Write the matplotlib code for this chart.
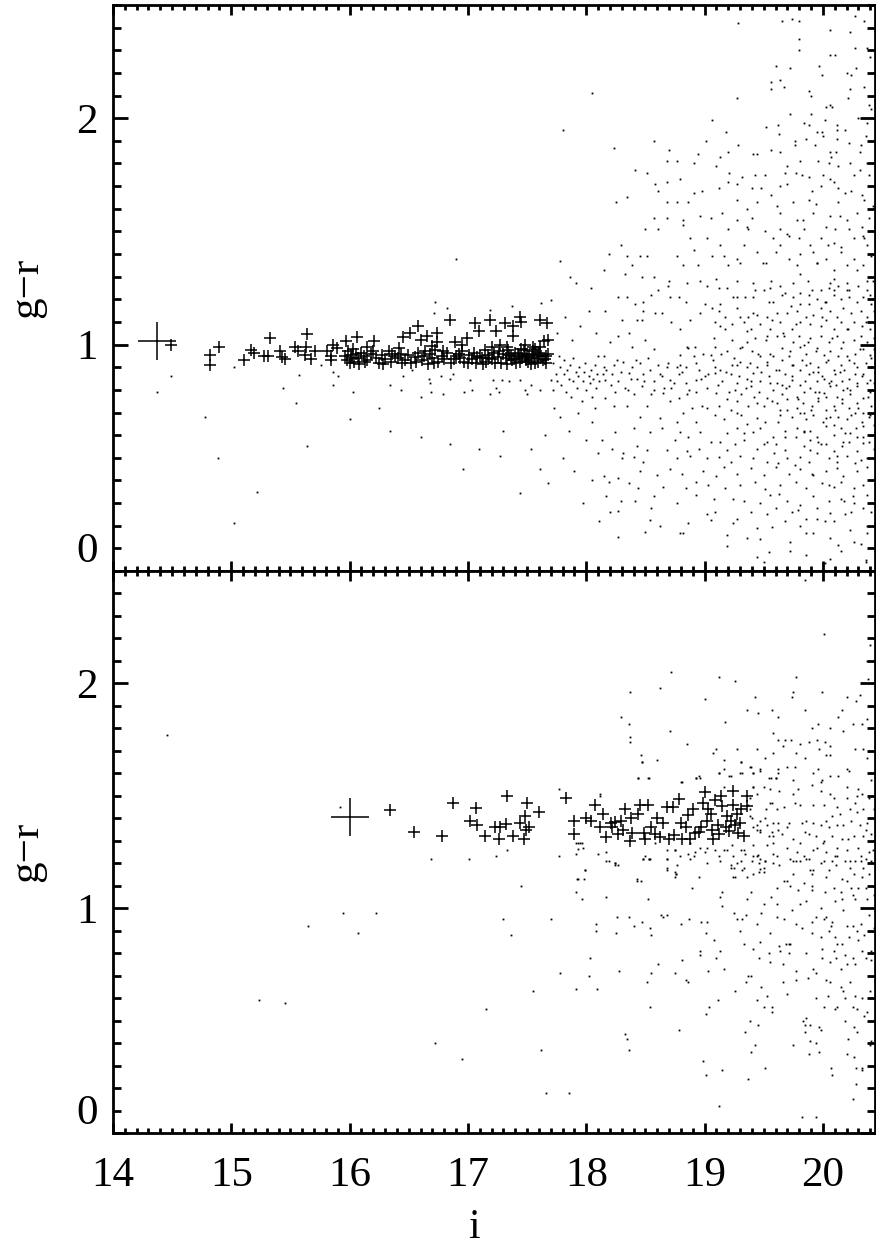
import matplotlib
matplotlib.use('Agg')
import matplotlib.pyplot as plt

plt.rcParams['font.family'] = ['Liberation Serif', 'DejaVu Serif']

# ---- upper panel ----
top_bcg_i = [14.37]
top_bcg_gr = [1.015]

# red sequence members (crosses)
top_rs = [
    (14.49, 1.00), (14.82, 0.955), (14.82, 0.91), (14.90, 0.99), (15.11, 0.93), (15.17, 0.975),
    (15.19, 0.965), (15.33, 1.03), (15.28, 0.95), (15.31, 0.95), (15.41, 0.97), (15.43, 0.945),
    (15.45, 0.935), (15.54, 0.99), (15.56, 0.97), (15.62, 0.955), (15.64, 1.045), (15.63, 0.99),
    (15.67, 0.935), (15.71, 0.97), (15.81, 0.97), (15.84, 0.95), (15.86, 1.0), (15.89, 0.985),
    (15.84, 0.93), (15.97, 1.015), (16.06, 1.035),
    (15.96, 0.95), (15.98, 0.93), (15.99, 0.97), (16.00, 0.92), (16.01, 0.955), (16.02, 0.94),
    (16.03, 0.98), (16.04, 0.925), (16.05, 0.96), (16.07, 0.94), (16.08, 0.915), (16.10, 0.965),
    (16.12, 0.95), (16.15, 0.93), (16.18, 0.96), (16.21, 1.015), (16.22, 0.94), (16.25, 0.92),
    (16.27, 0.955), (16.30, 0.935), (16.33, 0.97), (16.35, 0.925), (16.38, 0.95), (16.41, 0.94),
    (16.43, 0.96), (16.45, 1.035), (16.47, 0.93), (16.49, 0.955), (16.51, 1.05),
    (16.52, 0.92), (16.55, 0.945), (16.58, 1.08), (16.58, 0.965), (16.60, 1.02), (16.61, 0.93),
    (16.63, 0.95), (16.65, 1.04), (16.66, 0.915), (16.68, 0.96), (16.70, 0.94), (16.72, 0.975),
    (16.74, 1.05), (16.74, 1.01), (16.75, 0.925), (16.78, 0.95), (16.80, 0.935), (16.82, 0.965),
    (16.85, 1.11), (16.86, 0.92), (16.89, 1.01), (16.90, 0.95), (16.93, 0.94), (16.95, 0.97),
    (16.97, 0.925), (16.99, 1.03),
    (17.01, 0.955), (17.03, 0.935), (17.05, 0.965), (17.06, 1.095), (17.07, 0.92), (17.09, 1.06),
    (17.10, 0.95), (17.12, 0.94), (17.14, 0.975), (17.15, 0.925), (17.17, 0.955), (17.19, 1.11),
    (17.20, 0.935), (17.22, 0.965), (17.24, 1.06), (17.25, 0.945), (17.27, 1.0), (17.28, 0.92),
    (17.30, 0.96), (17.31, 1.095), (17.32, 0.94), (17.34, 0.975), (17.35, 0.955), (17.37, 0.93),
    (17.38, 1.08), (17.38, 1.04), (17.40, 0.965), (17.41, 0.92), (17.43, 0.95), (17.44, 1.12),
    (17.45, 1.10), (17.46, 0.94), (17.47, 0.975), (17.49, 0.93), (17.50, 0.96), (17.52, 0.945),
    (17.53, 0.915), (17.55, 0.97), (17.56, 0.94), (17.58, 0.955), (17.59, 0.925), (17.61, 1.11),
    (17.61, 0.99), (17.62, 0.95), (17.64, 1.015), (17.65, 0.935), (17.67, 1.095), (17.68, 1.02),
    (17.68, 0.96), (17.66, 0.92), (17.55, 0.99), (17.48, 1.0), (17.20, 0.99), (16.95, 1.0),
    (16.70, 0.995), (16.42, 0.985), (16.15, 0.99),
    (16.13, 0.925), (16.20, 0.97), (16.28, 0.915), (16.36, 0.96), (16.44, 0.92), (16.56, 0.925),
    (16.64, 0.97), (16.71, 0.92), (16.79, 0.97), (16.88, 0.935), (16.92, 0.96), (17.00, 0.92),
    (17.08, 0.945), (17.13, 0.915), (17.18, 0.94), (17.23, 0.92), (17.26, 0.97), (17.33, 0.915),
    (17.36, 0.95), (17.39, 0.935), (17.42, 0.96), (17.44, 0.925), (17.48, 0.95), (17.51, 0.925),
    (17.54, 0.955), (17.57, 0.92), (17.60, 0.965), (17.63, 0.93), (17.66, 0.95), (17.57, 0.98),
    (17.45, 0.98), (17.33, 0.99),
]

# field galaxies (dots)
top_field = [
    # bright, sparse part
    (14.37, 0.79), (14.49, 0.86), (14.78, 0.68), (14.89, 0.50), (15.02, 0.21), (15.22, 0.35),
    (15.02, 0.90), (15.44, 0.81), (15.57, 0.865), (15.64, 0.55), (15.76, 0.91), (15.86, 0.88),
    (15.86, 0.82), (15.90, 0.86), (16.03, 0.79), (16.00, 0.67), (16.34, 0.62), (16.60, 0.59),
    (16.85, 0.56), (17.09, 0.54), (17.30, 0.62), (17.53, 0.54), (17.65, 0.60), (16.96, 0.45),
    (17.27, 0.51), (17.61, 0.45), (17.68, 0.39), (17.44, 0.345),
    (16.72, 1.19), (16.82, 1.16), (16.71, 1.14), (17.19, 1.155), (17.37, 1.17), (17.62, 1.185),
    (17.70, 1.195), (17.91, 1.27),
    (16.45, 0.86), (16.53, 0.89), (16.67, 0.85), (16.77, 0.86), (16.85, 0.85), (16.68, 0.83),
    (16.34, 0.82), (16.43, 0.80), (16.60, 0.77), (16.69, 0.79), (17.02, 0.845), (17.03, 0.80),
    (16.97, 0.79), (17.21, 0.845), (17.29, 0.845), (17.24, 0.81), (17.26, 0.79), (17.44, 0.845),
    (17.48, 0.80), (17.53, 0.82), (17.61, 0.80), (17.70, 0.845), (17.72, 0.80), (17.50, 0.78),
    (17.35, 0.84), (17.19, 0.78), (16.79, 0.78), (16.87, 0.87),
    (16.90, 1.38), (17.78, 1.37), (17.80, 1.95), (18.05, 2.11), (16.25, 0.72), (15.55, 0.74),
    # 17.7 - 18.1
    (17.72, 0.92), (17.74, 0.87), (17.75, 0.84), (17.77, 0.95), (17.78, 0.90), (17.79, 0.82),
    (17.81, 0.87), (17.81, 0.93), (17.83, 0.79), (17.84, 0.89), (17.85, 0.85), (17.86, 0.91),
    (17.87, 0.77), (17.89, 0.84), (17.89, 0.94), (17.91, 0.88), (17.92, 0.81), (17.93, 0.86),
    (17.94, 0.90), (17.96, 0.75), (17.97, 0.84), (17.98, 0.88), (17.99, 0.92), (18.00, 0.80),
    (18.02, 0.86), (18.03, 0.83), (18.04, 0.89), (18.05, 0.77), (18.06, 0.85), (18.07, 0.91),
    (18.08, 0.81), (18.09, 0.87), (18.10, 0.95), (18.11, 0.84),
    (17.75, 1.05), (17.82, 1.12), (17.88, 1.02), (17.95, 1.08), (18.02, 1.15), (18.08, 1.05),
    (17.78, 0.68), (17.85, 0.62), (17.93, 0.70), (18.00, 0.58), (18.05, 0.66), (17.80, 0.50),
    (17.90, 0.44), (18.05, 0.40), (17.97, 0.30), (18.10, 0.52), (17.73, 0.72), (18.07, 0.72),
    (17.86, 1.30), (18.04, 1.25), (18.11, 0.22),
    # faint part, g-r > 1.25
    (19.28, 2.42), (19.65, 2.43), (19.74, 2.44), (19.80, 2.43), (20.06, 2.39), (20.23, 2.38),
    (20.35, 2.43), (19.80, 2.35), (19.80, 2.30), (20.06, 2.28), (20.27, 2.31), (20.37, 2.31),
    (20.40, 2.27), (19.60, 2.23), (19.72, 2.22), (19.97, 2.23), (19.99, 2.19), (20.20, 2.20),
    (20.24, 2.19), (20.28, 2.22), (19.56, 2.16), (19.64, 2.17), (19.56, 2.13), (19.67, 2.14),
    (19.27, 2.09), (19.88, 2.12), (19.90, 2.10), (20.23, 2.13), (20.35, 2.14), (20.21, 2.09),
    (20.03, 2.05), (20.08, 2.05), (20.06, 2.06), (20.39, 2.06), (19.06, 1.99), (19.72, 2.02),
    (19.90, 2.02), (20.02, 1.99), (19.84, 1.98), (19.88, 1.97), (20.12, 1.97), (20.30, 2.00),
    (20.37, 1.98), (19.18, 1.94), (19.52, 1.96), (19.62, 1.97), (19.95, 1.94), (19.99, 1.94),
    (20.12, 1.95), (18.23, 1.87), (18.57, 1.90), (18.70, 1.86), (19.01, 1.90), (19.28, 1.88),
    (19.63, 1.93), (19.76, 1.90), (19.76, 1.88), (19.86, 1.91), (19.93, 1.88), (20.00, 1.92),
    (20.12, 1.91), (20.22, 1.89), (20.36, 1.92), (20.32, 1.88), (18.94, 1.84), (19.13, 1.83),
    (19.20, 1.85), (19.41, 1.84), (19.44, 1.84), (19.56, 1.86), (19.64, 1.85), (20.06, 1.85),
    (20.11, 1.85), (20.31, 1.85), (18.68, 1.81), (18.77, 1.81), (18.91, 1.80), (19.10, 1.79),
    (19.70, 1.79), (19.81, 1.81), (19.96, 1.81), (20.05, 1.80), (20.13, 1.79), (20.23, 1.80),
    (20.37, 1.80), (18.41, 1.77), (18.51, 1.76), (18.79, 1.73), (19.21, 1.76), (19.32, 1.74),
    (19.43, 1.75), (19.51, 1.75), (19.68, 1.76), (19.77, 1.76), (19.82, 1.75), (20.00, 1.75),
    (20.06, 1.73), (20.26, 1.75), (20.39, 1.75), (18.58, 1.71), (18.68, 1.72), (18.91, 1.67),
    (18.98, 1.68), (19.12, 1.69), (19.20, 1.72), (19.27, 1.71), (19.40, 1.69), (19.48, 1.69),
    (19.56, 1.66), (19.64, 1.70), (19.70, 1.71), (19.91, 1.68), (19.98, 1.70), (20.09, 1.72),
    (20.13, 1.69), (20.19, 1.67), (20.33, 1.66), (18.25, 1.63), (18.34, 1.65), (18.61, 1.68),
    (18.68, 1.63), (18.77, 1.63), (18.86, 1.63), (19.27, 1.64), (19.36, 1.60), (19.44, 1.63),
    (19.75, 1.63), (19.88, 1.64), (20.13, 1.63), (20.35, 1.64), (18.57, 1.56), (18.68, 1.56),
    (18.82, 1.55), (18.96, 1.57), (19.05, 1.56), (19.15, 1.58), (19.27, 1.55), (19.40, 1.56),
    (19.64, 1.58), (19.78, 1.55), (19.92, 1.58), (20.06, 1.57), (20.20, 1.55), (20.29, 1.58),
    (20.39, 1.56), (18.50, 1.51), (18.61, 1.51), (18.82, 1.53), (19.20, 1.51), (19.37, 1.51),
    (19.51, 1.50), (19.64, 1.51), (19.70, 1.49), (19.84, 1.51), (20.03, 1.52), (20.10, 1.51),
    (20.22, 1.51), (20.34, 1.48), (18.29, 1.44), (18.88, 1.47), (19.02, 1.47), (19.13, 1.44),
    (19.33, 1.44), (19.58, 1.47), (19.64, 1.44), (19.80, 1.47), (19.89, 1.44), (19.98, 1.47),
    (20.09, 1.45), (20.26, 1.47), (20.37, 1.44), (18.19, 1.40), (18.34, 1.39), (18.45, 1.39),
    (18.51, 1.39), (18.77, 1.39), (18.91, 1.42), (19.06, 1.39), (19.16, 1.39), (19.27, 1.38),
    (19.44, 1.41), (19.60, 1.41), (19.71, 1.38), (19.81, 1.40), (19.92, 1.41), (20.03, 1.38),
    (20.15, 1.41), (20.26, 1.38), (20.41, 1.39), (18.15, 1.33), (18.39, 1.35), (18.82, 1.35),
    (18.94, 1.35), (19.20, 1.35), (19.30, 1.36), (19.52, 1.36), (19.78, 1.35), (19.95, 1.36),
    (20.09, 1.33), (20.20, 1.35), (20.34, 1.35), (18.33, 1.31), (18.47, 1.30), (18.57, 1.30),
    (18.70, 1.28), (18.85, 1.27), (18.96, 1.28), (19.10, 1.29), (19.27, 1.28), (19.41, 1.27),
    (19.56, 1.28), (19.75, 1.27), (19.87, 1.28), (20.06, 1.27), (20.20, 1.27), (20.37, 1.28),
    # faint part, g-r < 1.27
    (18.69, 1.26), (18.61, 1.24), (19.02, 1.26), (19.12, 1.25), (19.19, 1.25), (19.43, 1.24),
    (19.50, 1.24), (19.55, 1.25), (19.68, 1.23), (19.81, 1.23), (19.91, 1.24), (19.98, 1.24),
    (20.05, 1.25), (20.09, 1.24), (20.13, 1.26), (20.20, 1.24), (20.30, 1.26), (20.37, 1.24),
    (20.40, 1.22), (18.27, 1.21), (18.34, 1.21), (18.41, 1.18), (18.48, 1.19), (18.55, 1.22),
    (18.71, 1.21), (18.78, 1.21), (18.84, 1.19), (19.00, 1.18), (19.13, 1.18), (19.27, 1.21),
    (19.34, 1.21), (19.41, 1.21), (19.58, 1.19), (19.65, 1.22), (19.75, 1.21), (19.81, 1.18),
    (19.88, 1.18), (19.95, 1.20), (20.03, 1.19), (20.09, 1.22), (20.15, 1.20), (20.22, 1.21),
    (20.29, 1.19), (20.34, 1.21), (20.41, 1.18), (18.16, 1.15), (18.48, 1.15), (18.58, 1.14),
    (18.64, 1.14), (18.96, 1.14), (19.12, 1.15), (19.17, 1.12), (19.27, 1.16), (19.30, 1.12),
    (19.37, 1.12), (19.44, 1.13), (19.53, 1.12), (19.61, 1.14), (19.70, 1.14), (19.78, 1.15),
    (19.86, 1.12), (19.92, 1.13), (19.98, 1.16), (20.06, 1.15), (20.12, 1.12), (20.17, 1.16),
    (20.24, 1.14), (20.32, 1.15), (20.37, 1.12), (20.43, 1.15), (18.30, 1.11), (18.43, 1.11),
    (18.47, 1.11), (18.72, 1.10), (18.79, 1.07), (18.88, 1.11), (19.09, 1.10), (19.17, 1.07),
    (19.23, 1.09), (19.33, 1.10), (19.39, 1.07), (19.47, 1.09), (19.55, 1.07), (19.64, 1.10),
    (19.74, 1.07), (19.81, 1.10), (19.89, 1.09), (19.98, 1.08), (20.03, 1.11), (20.09, 1.07),
    (20.15, 1.10), (20.20, 1.07), (20.26, 1.10), (20.33, 1.08), (20.40, 1.07), (18.27, 1.04),
    (18.36, 1.05), (18.50, 1.02), (18.20, 1.01), (18.85, 0.99), (19.08, 1.03), (19.23, 1.02),
    (19.36, 1.01), (19.43, 1.03), (19.53, 1.04), (19.61, 1.04), (19.67, 1.04), (19.75, 1.01),
    (19.84, 1.00), (19.89, 1.03), (19.98, 1.04), (20.05, 1.01), (20.12, 1.04), (20.17, 1.01),
    (20.26, 1.02), (20.32, 1.04), (20.37, 1.01), (20.43, 1.03), (18.39, 0.99), (18.57, 0.98),
    (18.79, 0.955), (18.86, 0.985), (18.92, 0.99), (18.99, 0.96), (19.05, 0.955), (19.19, 0.97),
    (19.30, 0.985), (19.40, 0.97), (19.47, 0.95), (19.55, 0.96), (19.65, 0.985), (19.71, 0.95),
    (19.81, 0.99), (19.86, 0.96), (19.95, 0.985), (20.01, 0.955), (20.06, 0.97), (20.15, 0.985),
    (20.20, 0.95), (20.27, 0.96), (20.34, 0.98), (20.40, 0.955), (18.15, 0.95), (18.17, 0.89),
    (18.23, 0.91), (18.31, 0.925), (18.39, 0.90), (18.45, 0.92), (18.54, 0.89), (18.61, 0.91),
    (18.68, 0.90), (18.77, 0.90), (18.84, 0.90), (18.93, 0.92), (19.09, 0.90), (19.13, 0.89),
    (19.23, 0.91), (19.30, 0.925), (19.36, 0.90), (19.44, 0.90), (19.53, 0.925), (19.60, 0.89),
    (19.65, 0.93), (19.74, 0.91), (19.81, 0.89), (19.89, 0.92), (19.96, 0.90), (20.03, 0.925),
    (20.09, 0.89), (20.15, 0.91), (20.22, 0.93), (20.29, 0.90), (20.36, 0.92), (20.41, 0.90),
    (18.15, 0.90), (18.16, 0.845), (18.22, 0.87), (18.27, 0.84), (18.36, 0.875), (18.43, 0.85),
    (18.48, 0.87), (18.57, 0.84), (18.64, 0.86), (18.71, 0.845), (18.78, 0.87), (18.84, 0.83),
    (18.93, 0.845), (19.00, 0.86), (19.09, 0.875), (19.15, 0.84), (19.22, 0.87), (19.27, 0.83),
    (19.36, 0.85), (19.41, 0.875), (19.47, 0.84), (19.54, 0.86), (19.61, 0.83), (19.68, 0.87),
    (19.74, 0.845), (19.81, 0.82), (19.88, 0.87), (19.95, 0.84), (19.99, 0.86), (20.05, 0.83),
    (20.10, 0.87), (20.16, 0.84), (20.22, 0.85), (20.29, 0.83), (20.34, 0.87), (20.40, 0.845),
    (20.44, 0.875), (18.16, 0.764), (18.24, 0.79), (18.33, 0.81), (18.40, 0.78), (18.47, 0.815),
    (18.57, 0.80), (18.65, 0.785), (18.72, 0.81), (18.78, 0.764), (18.85, 0.78), (18.93, 0.79),
    (19.02, 0.81), (19.10, 0.785), (19.19, 0.76), (19.26, 0.80), (19.31, 0.78), (19.39, 0.815),
    (19.46, 0.79), (19.53, 0.764), (19.58, 0.80), (19.65, 0.78), (19.71, 0.815), (19.78, 0.77),
    (19.84, 0.79), (19.89, 0.81), (19.96, 0.764), (20.01, 0.785), (20.06, 0.815), (20.12, 0.77),
    (20.17, 0.80), (20.23, 0.78), (20.29, 0.815), (20.34, 0.764), (20.40, 0.79), (20.44, 0.82),
    (18.23, 0.73), (18.34, 0.73), (18.51, 0.73), (18.71, 0.75), (18.89, 0.72), (18.98, 0.73),
    (19.12, 0.73), (19.22, 0.71), (19.27, 0.75), (19.37, 0.73), (19.44, 0.74), (19.57, 0.75),
    (19.64, 0.71), (19.70, 0.76), (19.78, 0.72), (19.84, 0.70), (19.91, 0.73), (19.96, 0.75),
    (20.03, 0.71), (20.09, 0.73), (20.16, 0.76), (20.22, 0.72), (20.29, 0.74), (20.34, 0.70),
    (20.41, 0.73), (18.45, 0.68), (18.62, 0.675), (18.77, 0.66), (18.82, 0.70), (18.93, 0.66),
    (19.09, 0.69), (19.27, 0.70), (19.36, 0.65), (19.44, 0.675), (19.51, 0.66), (19.64, 0.69),
    (19.74, 0.68), (19.81, 0.70), (19.86, 0.67), (19.92, 0.69), (20.03, 0.675), (20.09, 0.645),
    (20.13, 0.68), (20.20, 0.67), (20.27, 0.70), (20.33, 0.66), (20.39, 0.68), (20.43, 0.645),
    (18.13, 0.58), (18.24, 0.616), (18.40, 0.63), (18.54, 0.616), (18.64, 0.63), (18.75, 0.58),
    (18.79, 0.616), (18.86, 0.594), (18.96, 0.616), (19.05, 0.57), (19.27, 0.63), (19.33, 0.61),
    (19.41, 0.616), (19.53, 0.57), (19.58, 0.594), (19.68, 0.62), (19.77, 0.59), (19.84, 0.616),
    (19.89, 0.62), (19.95, 0.594), (20.03, 0.64), (20.09, 0.60), (20.15, 0.63), (20.23, 0.61),
    (20.29, 0.59), (20.34, 0.64), (20.40, 0.60), (18.22, 0.54), (18.31, 0.52), (18.43, 0.55),
    (18.51, 0.535), (18.68, 0.535), (18.85, 0.53), (18.95, 0.54), (19.13, 0.57), (19.19, 0.535),
    (19.26, 0.56), (19.50, 0.56), (19.60, 0.56), (19.68, 0.535), (19.84, 0.55), (19.89, 0.535),
    (19.96, 0.57), (20.03, 0.56), (20.09, 0.53), (20.16, 0.55), (20.22, 0.57), (20.29, 0.53),
    (20.34, 0.565), (20.43, 0.54), (18.30, 0.50), (18.40, 0.505), (18.48, 0.48), (18.77, 0.50),
    (18.88, 0.51), (19.02, 0.50), (19.12, 0.505), (19.22, 0.48), (19.30, 0.51), (19.41, 0.50),
    (19.53, 0.48), (19.62, 0.475), (19.70, 0.50), (19.81, 0.505), (19.88, 0.48), (19.95, 0.52),
    (20.05, 0.50), (20.12, 0.48), (20.20, 0.51), (20.27, 0.475), (20.37, 0.50), (18.15, 0.42),
    (18.27, 0.41), (18.45, 0.44), (18.60, 0.425), (18.71, 0.45), (18.81, 0.43), (18.99, 0.44),
    (19.10, 0.42), (19.16, 0.46), (19.27, 0.43), (19.39, 0.454), (19.50, 0.425), (19.60, 0.46),
    (19.71, 0.43), (19.81, 0.45), (19.92, 0.425), (20.03, 0.44), (20.12, 0.454), (20.17, 0.42),
    (20.29, 0.44), (20.37, 0.46), (18.19, 0.395), (18.36, 0.39), (18.44, 0.365), (18.65, 0.37),
    (18.84, 0.365), (18.93, 0.395), (19.03, 0.38), (19.17, 0.365), (19.30, 0.38), (19.43, 0.395),
    (19.51, 0.36), (19.64, 0.38), (19.77, 0.395), (19.86, 0.365), (19.99, 0.39), (20.09, 0.37),
    (20.15, 0.395), (20.26, 0.365), (20.34, 0.38), (18.17, 0.33), (18.29, 0.31), (18.41, 0.31),
    (18.57, 0.33), (18.77, 0.30), (18.93, 0.335), (19.08, 0.32), (19.24, 0.32), (19.33, 0.31),
    (19.47, 0.30), (19.55, 0.335), (19.70, 0.31), (19.81, 0.29), (19.92, 0.33), (20.05, 0.31),
    (20.15, 0.32), (20.26, 0.30), (20.37, 0.335), (18.20, 0.26), (18.27, 0.265), (18.55, 0.28),
    (19.02, 0.25), (19.09, 0.26), (19.27, 0.23), (19.39, 0.26), (19.53, 0.25), (19.60, 0.28),
    (19.74, 0.26), (19.86, 0.23), (19.95, 0.28), (20.06, 0.255), (20.19, 0.25), (20.24, 0.26),
    (20.34, 0.28), (18.54, 0.225), (18.62, 0.20), (18.86, 0.21), (18.82, 0.17), (19.05, 0.225),
    (19.24, 0.21), (19.44, 0.19), (19.57, 0.196), (19.68, 0.22), (19.81, 0.20), (19.95, 0.23),
    (20.09, 0.22), (20.23, 0.18), (20.37, 0.20), (20.44, 0.21), (18.27, 0.15), (18.50, 0.174),
    (18.79, 0.17), (19.19, 0.16), (19.36, 0.144), (19.47, 0.14), (19.72, 0.13), (19.86, 0.17),
    (20.06, 0.144), (20.13, 0.115), (20.26, 0.13), (20.37, 0.17), (19.19, 0.11), (19.54, 0.085),
    (19.72, 0.09), (19.44, 0.063), (19.50, 0.04), (20.15, 0.09), (20.06, 0.055), (20.36, 0.05),
    (20.02, 0.035), (20.36, 0.04),
    # more of the dense cloud
    (19.03, 0.87), (19.07, 0.93), (19.11, 0.82), (19.14, 0.96), (19.18, 0.88), (19.21, 0.79),
    (19.25, 0.94), (19.29, 0.86), (19.32, 0.99), (19.35, 0.81), (19.38, 0.92), (19.42, 0.77),
    (19.45, 0.96), (19.48, 0.88), (19.52, 1.02), (19.55, 0.83), (19.58, 0.95), (19.61, 0.74),
    (19.63, 0.89), (19.66, 1.05), (19.69, 0.81), (19.72, 0.97), (19.74, 0.86), (19.77, 1.09),
    (19.79, 0.76), (19.82, 0.93), (19.85, 0.84), (19.87, 1.01), (19.90, 0.71), (19.92, 0.88),
    (19.94, 0.97), (19.97, 0.79), (19.99, 1.12), (20.01, 0.85), (20.04, 0.93), (20.06, 0.68),
    (20.08, 1.03), (20.11, 0.82), (20.13, 0.95), (20.16, 0.74), (20.18, 0.89), (20.21, 1.07),
    (20.23, 0.80), (20.26, 0.92), (20.28, 0.63), (20.31, 0.98), (20.33, 0.86), (20.36, 1.10),
    (20.38, 0.77), (20.41, 0.94), (20.43, 0.83),
    (19.06, 1.16), (19.16, 0.67), (19.24, 1.21), (19.33, 0.58), (19.41, 1.14), (19.47, 0.63),
    (19.54, 1.19), (19.59, 0.52), (19.64, 1.26), (19.68, 0.59), (19.73, 1.17), (19.76, 0.47),
    (19.81, 1.31), (19.84, 0.62), (19.88, 1.22), (19.91, 0.43), (19.95, 1.36), (19.98, 0.56),
    (20.02, 1.19), (20.05, 0.38), (20.09, 1.29), (20.12, 0.51), (20.15, 1.43), (20.19, 0.61),
    (20.22, 1.24), (20.25, 0.33), (20.29, 1.33), (20.32, 0.49), (20.35, 1.47), (20.39, 0.57),
    (20.42, 1.28), (20.44, 0.41),
    (19.02, 0.72), (19.09, 0.99), (19.13, 1.08), (19.19, 0.61), (19.27, 0.91), (19.31, 0.69),
    (19.36, 1.06), (19.39, 0.84), (19.44, 0.54), (19.50, 0.73), (19.53, 0.91), (19.57, 1.11),
    (19.62, 0.66), (19.65, 0.82), (19.70, 0.71), (19.75, 0.91), (19.78, 0.63), (19.80, 1.04),
    (19.83, 0.74), (19.86, 0.91), (19.89, 0.58), (19.93, 0.79), (19.96, 0.88), (20.00, 0.66),
    (20.03, 0.77), (20.07, 0.84), (20.10, 0.71), (20.14, 0.88), (20.17, 0.57), (20.20, 0.81),
    (20.24, 0.69), (20.27, 0.87), (20.30, 0.72), (20.34, 0.59), (20.37, 0.83), (20.40, 0.69),
    (20.43, 0.98),
    (19.71, 1.48), (19.83, 1.55), (19.94, 1.62), (20.04, 1.44), (20.14, 1.57), (20.24, 1.68),
    (20.33, 1.52), (20.42, 1.61), (19.88, 1.74), (20.07, 1.83), (20.19, 1.95), (20.31, 1.77),
    (20.41, 2.04), (19.61, 1.61), (19.49, 1.36), (19.36, 1.52), (20.10, 2.28), (20.27, 2.45),
    (20.02, 0.22), (20.18, 0.31), (20.32, 0.12), (19.92, 0.17), (19.79, 0.27), (19.63, 0.34),
    (19.86, 0.07), (20.41, 0.26),
    (18.21, 0.82), (18.29, 0.88), (18.35, 0.80), (18.42, 0.93), (18.49, 0.84), (18.55, 0.78),
    (18.62, 0.87), (18.69, 0.92), (18.74, 0.83), (18.81, 0.88), (18.87, 0.80), (18.91, 0.95),
    (18.97, 0.85), (18.14, 0.87), (18.26, 0.93), (18.38, 0.85), (18.52, 0.94), (18.66, 0.81),
    (18.79, 0.91), (18.95, 0.89),
]

# ---- lower panel ----
bot_bcg_i = [16.00]
bot_bcg_gr = [1.404]

bot_rs = [
    (16.34, 1.437), (16.54, 1.34), (16.78, 1.32), (16.87, 1.47), (17.07, 1.445), (17.02, 1.39),
    (17.08, 1.37), (17.14, 1.32), (17.23, 1.36), (17.27, 1.36), (17.32, 1.375), (17.33, 1.50),
    (17.26, 1.31), (17.38, 1.32), (17.50, 1.47), (17.44, 1.38), (17.48, 1.41), (17.49, 1.35),
    (17.47, 1.31), (17.52, 1.36), (17.60, 1.43), (17.83, 1.49), (17.90, 1.39), (17.90, 1.33),
    (18.00, 1.40), (18.07, 1.46), (18.04, 1.39), (18.14, 1.42), (18.17, 1.315), (18.21, 1.38),
    (18.24, 1.385), (18.22, 1.36), (18.29, 1.39), (18.38, 1.40), (18.39, 1.335), (18.37, 1.30),
    (18.45, 1.46), (18.52, 1.46), (18.49, 1.335), (18.50, 1.31), (18.44, 1.42), (18.62, 1.315),
    (18.65, 1.38), (18.68, 1.45), (18.73, 1.45), (18.78, 1.485), (18.74, 1.325), (18.81, 1.31),
    (18.86, 1.415), (18.90, 1.44), (18.88, 1.31), (18.92, 1.335), (18.95, 1.34), (18.99, 1.47),
    (19.00, 1.515), (19.03, 1.44), (19.02, 1.39), (19.07, 1.31), (19.11, 1.37), (19.14, 1.50),
    (19.15, 1.455), (19.18, 1.36), (19.21, 1.345), (19.24, 1.52), (19.24, 1.46), (19.22, 1.39),
    (19.28, 1.335), (19.30, 1.38), (19.36, 1.50), (19.36, 1.455), (18.55, 1.36), (18.60, 1.40),
    (18.84, 1.36), (19.06, 1.35), (19.27, 1.42), (18.12, 1.36), (18.31, 1.35),
    (18.97, 1.36), (19.05, 1.42), (19.12, 1.33), (19.19, 1.41), (19.26, 1.37), (19.33, 1.32),
    (19.31, 1.44), (18.80, 1.38), (18.58, 1.33), (18.33, 1.44), (18.27, 1.33), (18.70, 1.31),
    (19.09, 1.48),
]

bot_field = [
    # bright, sparse part
    (14.46, 1.77), (15.23, 0.59), (15.65, 0.92), (15.94, 0.98), (16.07, 0.89), (16.22, 0.98),
    (16.69, 1.22), (17.01, 1.22), (17.24, 1.23), (17.33, 1.26), (15.92, 1.45), (17.30, 0.95),
    (17.36, 0.88), (17.62, 0.37), (17.66, 0.18), (17.55, 0.63), (16.72, 0.40), (16.95, 0.33),
    (17.15, 0.55), (17.45, 1.10), (17.70, 0.95), (15.45, 0.58),
    (17.77, 1.53), (18.12, 1.51), (17.95, 1.29), (17.97, 1.27), (17.93, 1.265), (18.17, 1.25),
    (17.77, 1.23), (18.24, 1.19), (18.50, 1.23), (18.53, 1.22), (18.68, 1.22), (18.79, 1.23),
    (18.58, 1.29), (18.75, 1.26), (18.88, 1.29), (18.96, 1.27), (19.00, 1.25), (19.16, 1.26),
    (19.23, 1.28), (19.33, 1.26), (19.41, 1.23), (19.45, 1.235), (19.51, 1.21), (19.58, 1.24),
    (19.31, 1.21), (19.33, 1.18), (19.22, 1.18), (18.68, 1.18), (18.75, 1.16), (18.76, 1.15),
    (17.99, 1.17), (17.92, 1.13), (19.24, 1.14), (19.41, 1.15), (19.47, 1.175), (18.43, 1.13),
    (18.47, 1.65), (19.16, 1.62), (19.31, 1.65), (19.38, 1.63), (19.47, 1.61), (18.44, 1.58),
    (18.52, 1.58), (18.93, 1.58), (18.95, 1.59), (18.81, 1.56), (19.12, 1.60), (19.21, 1.59),
    (19.30, 1.60), (19.41, 1.60), (19.54, 1.58), (19.60, 1.58), (19.62, 1.60), (19.41, 1.54),
    (19.44, 1.51), (19.55, 1.53), (19.38, 1.49), (19.37, 1.46), (19.38, 1.44), (19.57, 1.47),
    (19.61, 1.44), (19.38, 1.41), (19.44, 1.37), (19.51, 1.40), (19.58, 1.38), (19.47, 1.35),
    (19.62, 1.35), (19.47, 1.34), (19.54, 1.32), (19.57, 1.34),
    # faint part, g-r > 1.2
    (19.85, 2.46), (20.44, 2.39), (20.01, 2.22), (20.40, 2.17), (20.37, 2.10), (18.72, 2.05),
    (19.12, 2.03), (19.26, 2.01), (19.77, 2.03), (18.62, 1.98), (18.37, 1.96), (19.75, 1.96),
    (19.74, 1.94), (19.99, 1.96), (19.00, 1.93), (19.43, 1.94), (20.20, 1.94), (20.31, 1.95),
    (19.36, 1.88), (19.45, 1.87), (19.57, 1.88), (19.85, 1.88), (20.16, 1.88), (18.29, 1.85),
    (19.62, 1.85), (18.36, 1.82), (18.71, 1.79), (19.17, 1.83), (19.91, 1.80), (19.96, 1.82),
    (20.06, 1.80), (20.17, 1.79), (20.25, 1.82), (20.33, 1.82), (20.37, 1.84), (18.37, 1.76),
    (18.37, 1.74), (18.85, 1.73), (19.58, 1.78), (19.62, 1.75), (19.68, 1.75), (19.73, 1.75),
    (19.81, 1.73), (19.88, 1.74), (19.66, 1.72), (19.77, 1.69), (19.85, 1.67), (19.95, 1.75),
    (20.02, 1.74), (20.06, 1.72), (20.03, 1.68), (20.06, 1.68), (20.27, 1.71), (20.34, 1.71),
    (20.39, 1.70), (20.37, 1.67), (19.07, 1.69), (19.10, 1.71), (19.27, 1.71), (19.44, 1.71),
    (18.46, 1.68), (18.47, 1.65), (18.60, 1.66), (19.16, 1.66), (19.31, 1.65), (19.51, 1.67),
    (19.58, 1.69), (19.39, 1.63), (19.47, 1.62), (18.44, 1.58), (18.53, 1.58), (18.93, 1.58),
    (18.96, 1.58), (19.12, 1.60), (19.22, 1.59), (19.32, 1.60), (19.41, 1.60), (19.56, 1.58),
    (19.60, 1.58), (19.62, 1.62), (19.70, 1.63), (19.75, 1.57), (19.92, 1.60), (19.96, 1.62),
    (19.99, 1.57), (20.06, 1.59), (20.13, 1.59), (20.20, 1.62), (20.22, 1.61), (20.30, 1.53),
    (20.41, 1.57), (18.80, 1.56), (19.16, 1.54), (19.41, 1.54), (19.50, 1.54), (19.75, 1.51),
    (19.79, 1.53), (19.91, 1.55), (19.98, 1.56), (20.06, 1.51), (20.09, 1.49), (20.20, 1.54),
    (20.20, 1.49), (20.29, 1.50), (20.33, 1.51), (20.39, 1.49), (19.55, 1.47), (19.67, 1.45),
    (19.76, 1.47), (19.92, 1.46), (20.01, 1.46), (20.08, 1.41), (20.12, 1.45), (20.23, 1.44),
    (20.29, 1.43), (20.34, 1.44), (20.43, 1.44), (19.47, 1.39), (19.53, 1.37), (19.62, 1.38),
    (19.70, 1.36), (19.82, 1.38), (19.86, 1.39), (19.92, 1.38), (19.98, 1.37), (20.03, 1.39),
    (20.12, 1.37), (20.17, 1.37), (20.24, 1.39), (20.31, 1.37), (20.37, 1.38), (19.44, 1.35),
    (19.58, 1.32), (19.65, 1.33), (19.75, 1.31), (19.85, 1.34), (19.94, 1.32), (20.01, 1.30),
    (20.08, 1.32), (20.16, 1.31), (20.26, 1.32), (20.34, 1.32), (20.41, 1.33), (19.41, 1.28),
    (19.53, 1.28), (19.70, 1.27), (19.81, 1.29), (19.92, 1.26), (20.03, 1.25), (20.12, 1.27),
    (20.20, 1.26), (20.30, 1.27), (20.39, 1.25), (19.47, 1.22), (19.61, 1.23), (19.75, 1.21),
    (19.86, 1.22), (20.01, 1.21), (20.10, 1.23), (20.23, 1.21), (20.36, 1.22), (17.91, 1.29),
    (17.93, 1.29), (17.96, 1.29), (17.91, 1.24), (18.10, 1.24), (18.17, 1.21), (18.24, 1.20),
    (18.48, 1.22), (18.54, 1.22), (18.68, 1.26), (18.75, 1.26), (18.86, 1.24), (18.92, 1.25),
    (19.02, 1.27), (19.09, 1.26), (19.19, 1.26), (19.24, 1.23), (19.31, 1.26), (19.34, 1.24),
    (19.13, 1.21), (19.40, 1.40), (19.41, 1.36), (18.12, 1.50),
    # faint part, g-r < 1.2
    (18.19, 1.21), (18.24, 1.20), (18.27, 1.19), (18.48, 1.22), (18.53, 1.22), (18.68, 1.22),
    (18.77, 1.19), (18.68, 1.17), (18.76, 1.15), (18.75, 1.14), (18.88, 1.22), (18.91, 1.23),
    (19.02, 1.20), (19.12, 1.23), (19.22, 1.19), (19.25, 1.18), (19.27, 1.20), (19.32, 1.17),
    (19.26, 1.14), (19.36, 1.14), (19.40, 1.21), (19.44, 1.23), (19.46, 1.20), (19.46, 1.16),
    (19.50, 1.18), (19.51, 1.21), (19.58, 1.20), (19.63, 1.19), (19.72, 1.22), (19.77, 1.21),
    (19.81, 1.21), (19.84, 1.23), (19.88, 1.22), (19.92, 1.17), (19.98, 1.20), (20.05, 1.17),
    (20.08, 1.21), (20.12, 1.23), (20.19, 1.21), (20.23, 1.18), (20.27, 1.21), (20.32, 1.23),
    (20.34, 1.18), (20.41, 1.21), (19.50, 1.16), (19.75, 1.15), (19.91, 1.15), (20.03, 1.14),
    (20.16, 1.13), (20.26, 1.15), (20.39, 1.15), (17.99, 1.17), (17.93, 1.13), (17.98, 1.13),
    (17.91, 1.07), (17.96, 1.04), (18.17, 1.05), (18.52, 1.04), (18.43, 1.12), (18.46, 1.12),
    (18.95, 1.14), (18.89, 1.09), (19.15, 1.07), (19.13, 1.05), (19.15, 1.01), (19.39, 1.07),
    (19.25, 0.98), (19.36, 1.04), (19.50, 1.02), (19.56, 1.05), (19.61, 1.09), (19.70, 1.12),
    (19.72, 1.10), (19.79, 1.08), (19.81, 1.02), (19.86, 1.03), (19.91, 1.10), (19.91, 1.08),
    (19.98, 1.00), (20.03, 0.96), (20.09, 1.09), (20.10, 1.03), (20.16, 1.04), (20.20, 1.12),
    (20.25, 1.06), (20.27, 1.04), (20.30, 1.09), (20.36, 1.09), (20.33, 1.00), (20.37, 1.04),
    (20.43, 1.06), (18.26, 0.96), (18.36, 0.96), (18.08, 0.93), (18.08, 0.90), (18.25, 0.89),
    (18.40, 0.92), (18.47, 0.94), (18.54, 0.91), (18.55, 0.88), (18.63, 0.97), (18.68, 0.97),
    (18.65, 0.96), (18.80, 0.93), (18.87, 0.95), (18.97, 0.94), (19.02, 0.94), (19.01, 0.89),
    (19.08, 0.86), (19.27, 0.95), (19.32, 0.95), (19.30, 0.90), (19.35, 0.97), (19.44, 0.93),
    (19.47, 0.85), (19.48, 0.98), (19.55, 0.89), (19.61, 0.96), (19.67, 0.95), (19.72, 0.84),
    (19.77, 0.93), (19.82, 0.91), (19.86, 0.80), (19.91, 0.94), (19.94, 0.96), (19.98, 0.87),
    (20.01, 0.95), (20.05, 0.90), (20.07, 0.92), (20.10, 0.87), (20.12, 0.84), (20.16, 0.84),
    (20.20, 0.92), (20.22, 0.87), (20.25, 0.92), (20.29, 0.90), (20.32, 0.93), (20.35, 0.88),
    (20.39, 0.90), (20.43, 0.91), (18.03, 0.78), (18.96, 0.81), (18.96, 0.79), (19.13, 0.81),
    (19.10, 0.78), (19.33, 0.84), (19.41, 0.82), (19.46, 0.78), (19.54, 0.80), (19.55, 0.76),
    (19.63, 0.83), (19.64, 0.81), (19.71, 0.84), (19.71, 0.80), (19.66, 0.75), (19.77, 0.72),
    (19.92, 0.73), (19.94, 0.71), (19.99, 0.82), (19.99, 0.78), (20.06, 0.76), (20.09, 0.81),
    (20.11, 0.78), (20.15, 0.73), (20.20, 0.75), (20.25, 0.78), (20.27, 0.75), (20.33, 0.81),
    (20.36, 0.78), (20.41, 0.77), (20.44, 0.73), (18.61, 0.75), (18.81, 0.77), (19.03, 0.72),
    (19.16, 0.73), (18.75, 0.71), (18.55, 0.71), (18.28, 0.72), (18.02, 0.70), (17.78, 0.71),
    (19.37, 0.70), (18.09, 0.64), (17.91, 0.64), (18.51, 0.67), (18.84, 0.68), (18.86, 0.67),
    (18.54, 0.56), (19.11, 0.59), (19.04, 0.56), (19.01, 0.53), (19.26, 0.63), (19.35, 0.67),
    (19.39, 0.70), (19.44, 0.59), (19.48, 0.65), (19.53, 0.61), (19.50, 0.56), (19.57, 0.56),
    (19.57, 0.54), (19.66, 0.67), (19.70, 0.62), (19.77, 0.68), (19.94, 0.60), (20.01, 0.56),
    (20.03, 0.68), (20.06, 0.67), (20.10, 0.55), (20.12, 0.56), (20.15, 0.65), (20.17, 0.63),
    (20.19, 0.60), (20.23, 0.67), (20.25, 0.56), (20.27, 0.61), (20.29, 0.55), (20.33, 0.60),
    (20.37, 0.54), (20.40, 0.63), (20.41, 0.60), (20.44, 0.67), (19.38, 0.50), (19.34, 0.45),
    (19.45, 0.48), (19.83, 0.50), (19.86, 0.51), (19.85, 0.48), (19.89, 0.48), (19.97, 0.47),
    (19.98, 0.46), (19.85, 0.45), (19.89, 0.41), (19.94, 0.40), (19.75, 0.39), (19.88, 0.35),
    (19.97, 0.36), (19.43, 0.39), (19.39, 0.36), (20.19, 0.50), (20.26, 0.47), (20.29, 0.45),
    (20.41, 0.41), (20.40, 0.39), (20.20, 0.35), (20.26, 0.34), (19.51, 0.29), (18.99, 0.32),
    (19.01, 0.26), (19.15, 0.28), (19.37, 0.24), (20.07, 0.29), (20.08, 0.26), (20.28, 0.29),
    (20.33, 0.29), (20.33, 0.28), (20.28, 0.22), (18.33, 0.44), (18.34, 0.42), (18.36, 0.37),
    (18.78, 0.46), (17.85, 0.18), (19.12, 0.12), (20.25, 0.15), (19.82, 0.07), (19.94, 0.07),
    # more of the faint cloud
    (19.52, 1.44), (19.58, 1.29), (19.63, 1.52), (19.67, 1.12), (19.71, 1.38), (19.74, 0.99),
    (19.78, 1.25), (19.81, 1.46), (19.84, 1.11), (19.88, 1.33), (19.91, 0.89), (19.95, 1.27),
    (19.98, 1.52), (20.02, 1.07), (20.05, 1.36), (20.08, 0.94), (20.11, 1.19), (20.14, 1.42),
    (20.17, 0.99), (20.21, 1.31), (20.24, 1.09), (20.27, 1.47), (20.30, 0.86), (20.33, 1.14),
    (20.36, 1.35), (20.39, 0.97), (20.42, 1.26), (20.44, 1.04), (19.69, 0.84), (19.87, 0.69),
    (20.04, 0.61), (20.19, 0.79), (20.35, 0.52), (20.21, 0.42), (19.76, 1.63), (19.97, 1.71),
    (20.13, 1.85), (20.28, 1.92), (20.38, 2.02), (19.61, 1.02), (19.89, 1.17), (20.00, 1.29),
    (20.15, 1.07), (20.32, 1.21), (20.41, 0.81),
]

x_ticks = [14, 15, 16, 17, 18, 19, 20]
y_ticks = [0, 1, 2]
x_range = (14.0, 20.44)
y_range = (0.0, 2.5)


def draw_panel(ax, field, rs, bcg_i, bcg_gr):
    ax.plot([p[0] for p in field], [p[1] for p in field], 's', color='k',
            ms=1.3, mew=0, zorder=1)
    ax.plot([p[0] for p in rs], [p[1] for p in rs], '+', color='k',
            ms=9, mew=1.1, zorder=2)
    ax.plot(bcg_i, bcg_gr, '+', color='k', ms=27, mew=1.1, zorder=3)

    ax.set_xlim(*x_range)
    ax.set_ylim(*y_range)
    ax.set_xticks(x_ticks)
    ax.set_xticks([t / 10 for t in range(140, 205)], minor=True)
    ax.set_yticks(y_ticks)
    ax.set_yticks([t / 10 for t in range(0, 26)], minor=True)
    ax.tick_params(which='both', direction='in', top=True, right=True, width=2,
                   labelsize=31)
    ax.tick_params(axis='x', which='major', length=7.5, pad=17)
    ax.tick_params(axis='x', which='minor', length=3.5)
    ax.tick_params(axis='y', which='major', length=11, pad=11)
    ax.tick_params(axis='y', which='minor', length=5.5)
    for s in ax.spines.values():
        s.set_linewidth(2)
    ax.set_ylabel('g\u2212r', fontsize=31)
    ax.yaxis.set_label_coords(-0.088, 0.5)
    # the "0" label sits above its tick
    ax.yaxis.get_major_ticks()[0].label1.set_verticalalignment('bottom')


fig = plt.figure(figsize=(8.76, 12.49), dpi=100)
ax1 = fig.add_axes([113 / 876, 1 - 571 / 1249, 762 / 876, 566 / 1249])
ax2 = fig.add_axes([113 / 876, 1 - 1133 / 1249, 762 / 876, 562 / 1249])

draw_panel(ax1, top_field, top_rs, top_bcg_i, top_bcg_gr)
draw_panel(ax2, bot_field, bot_rs, bot_bcg_i, bot_bcg_gr)
ax1.tick_params(labelbottom=False)

ax2.set_xlabel('i', fontsize=30, va='baseline')
ax2.xaxis.set_label_coords(0.474, -0.187)

fig.savefig('out.png', dpi=100)
